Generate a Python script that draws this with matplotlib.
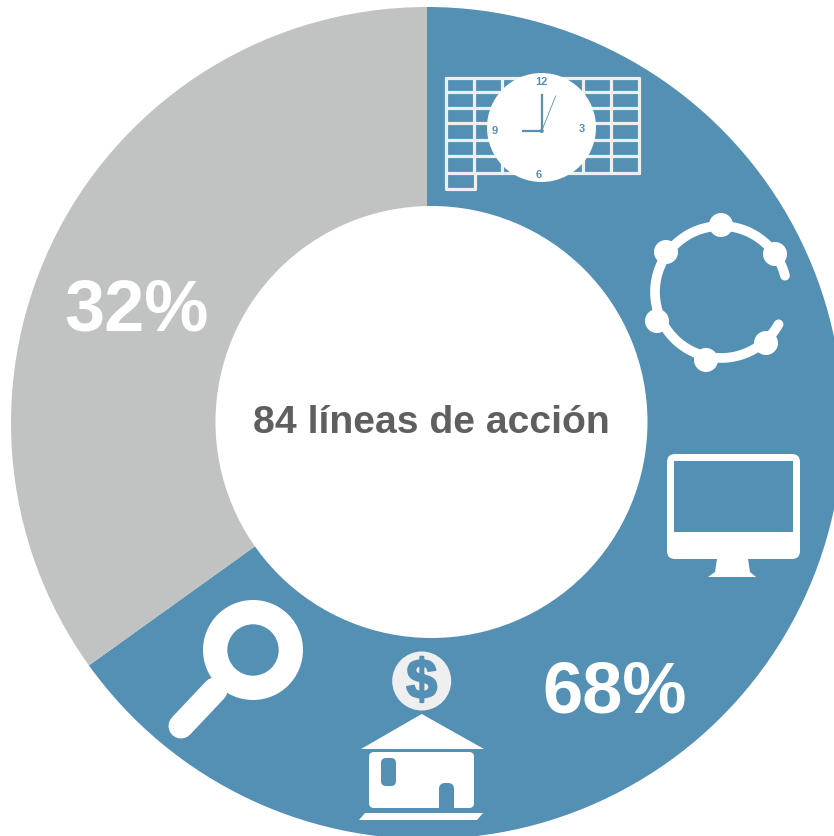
import numpy as np
import matplotlib
matplotlib.use('Agg')
import matplotlib.pyplot as plt
import matplotlib.patheffects as pe
from matplotlib.patches import Circle, FancyBboxPatch, Polygon

plt.rcParams['font.family'] = ['Liberation Sans', 'DejaVu Sans']

# Shares as drawn in the picture, labels as printed on it
categories = ['68%', '32%']
drawn_shares = [65.1, 34.9]
center_label = '84 líneas de acción'
clock_numbers = ['12', '3', '6', '9']

BLUE = '#5390B4'
GREY = '#C1C3C2'
WHITE = '#FFFFFF'
LIGHT = '#EFEFEF'

fig = plt.figure(figsize=(8.34, 8.37), dpi=100)
ax = fig.add_axes([0, 0, 1, 1])

# y axis is inverted below so the angles run clockwise from the top
ax.pie(drawn_shares, colors=[BLUE, GREY], center=(427, 423), radius=416,
       startangle=270, counterclock=True, wedgeprops={'linewidth': 0})
ax.set_xlim(0, 834)
ax.set_ylim(836, -1)
ax.set_aspect('auto')
ax.axis('off')

ax.add_patch(Circle((431.5, 422), 216, fc=WHITE, ec='none'))


def rounded(x0, y0, x1, y1, r, color, z=3):
    ax.add_patch(FancyBboxPatch((x0 + r, y0 + r), x1 - x0 - 2 * r, y1 - y0 - 2 * r,
                                boxstyle='round,pad=%f,rounding_size=%f' % (r, r),
                                fc=color, ec='none', zorder=z))


# Calendar grid
grid_kw = dict(color=LIGHT, lw=2.3, solid_capstyle='round', zorder=3)
for x in [446, 474, 502, 529.5, 556, 583, 611, 639]:
    ax.plot([x, x], [78, 173], **grid_kw)
for y in [78, 92, 108, 123, 140, 156, 173]:
    ax.plot([446, 639], [y, y], **grid_kw)
ax.plot([446, 446, 475, 475], [173, 189, 189, 173], **grid_kw)

# Clock
ax.add_patch(Circle((541.5, 127.5), 54.5, fc=WHITE, ec='none', zorder=4))
ax.plot([541.7, 541.7], [131, 95], color=BLUE, lw=1.6, zorder=5)
ax.plot([541.7, 523], [131, 131], color=BLUE, lw=1.6, zorder=5)
ax.plot([541.7, 555.7], [131, 96], color=BLUE, lw=0.6, zorder=5)
ax.add_patch(Circle((541.7, 131), 2, fc=BLUE, ec='none', zorder=5))
for txt, (x, y) in zip(clock_numbers, [(541, 81), (582, 128), (539, 174), (495, 130)]):
    ax.text(x, y, txt, color=BLUE, fontsize=8, fontweight='bold',
            ha='center', va='center', zorder=5)

# Ring with nodes
theta = np.radians(np.linspace(29.3, 345.7, 120))
ax.plot(721 + 66 * np.cos(theta), 292 + 66 * np.sin(theta), color=WHITE, lw=7,
        solid_capstyle='round', zorder=3)
for x, y in [(721, 225), (666, 252), (775, 254), (657, 321), (706, 360), (766, 343)]:
    ax.add_patch(Circle((x, y), 12, fc=WHITE, ec='none', zorder=3))

# Monitor
rounded(667, 454, 800, 559, 8, WHITE)
ax.add_patch(Polygon([(674, 461), (793, 461), (793, 532), (674, 532)], fc=BLUE, ec='none', zorder=4))
ax.add_patch(Polygon([(717, 559), (748, 559), (750, 572), (756, 577), (708, 577), (715, 572)],
                     fc=WHITE, ec='none', zorder=3))

# Coin and house
ax.add_patch(Circle((421.7, 681), 29.5, fc=LIGHT, ec='none', zorder=3))
ax.text(421.7, 684, '$', color=BLUE, fontsize=40, fontweight='bold',
        ha='center', va='center', zorder=4,
        path_effects=[pe.withStroke(linewidth=1.5, foreground=BLUE)])
ax.add_patch(Polygon([(421.7, 714), (484, 749), (361, 749)], fc=WHITE, ec='none', zorder=3))
rounded(369, 752, 474, 808, 5, WHITE)
rounded(381, 758, 396, 786, 5, BLUE, z=4)
rounded(439, 783, 454, 815, 6, BLUE, z=4)
ax.add_patch(Polygon([(440, 808), (460, 808), (460, 812), (440, 812)], fc=BLUE, ec='none', zorder=4))
ax.add_patch(Polygon([(365, 813), (483, 813), (477, 820), (359, 820)], fc=WHITE, ec='none', zorder=5))

# Magnifier
ax.plot([215, 181], [690, 726], color=WHITE, lw=18, solid_capstyle='round', zorder=3)
ax.add_patch(Circle((253, 650), 50, fc=WHITE, ec='none', zorder=3))
ax.add_patch(Circle((253, 650), 25.7, fc=BLUE, ec='none', zorder=4))

# Texts
ax.text(615, 693, categories[0], color=WHITE, fontsize=52, fontweight='bold',
        ha='center', va='center', zorder=6)
ax.text(137, 311, categories[1], color=WHITE, fontsize=52, fontweight='bold',
        ha='center', va='center', zorder=6)
ax.text(431.5, 422, center_label, color='#5F5F5F', fontsize=28.2, fontweight='bold',
        ha='center', va='center', zorder=6)

fig.savefig('out.png', dpi=100, facecolor='white')
